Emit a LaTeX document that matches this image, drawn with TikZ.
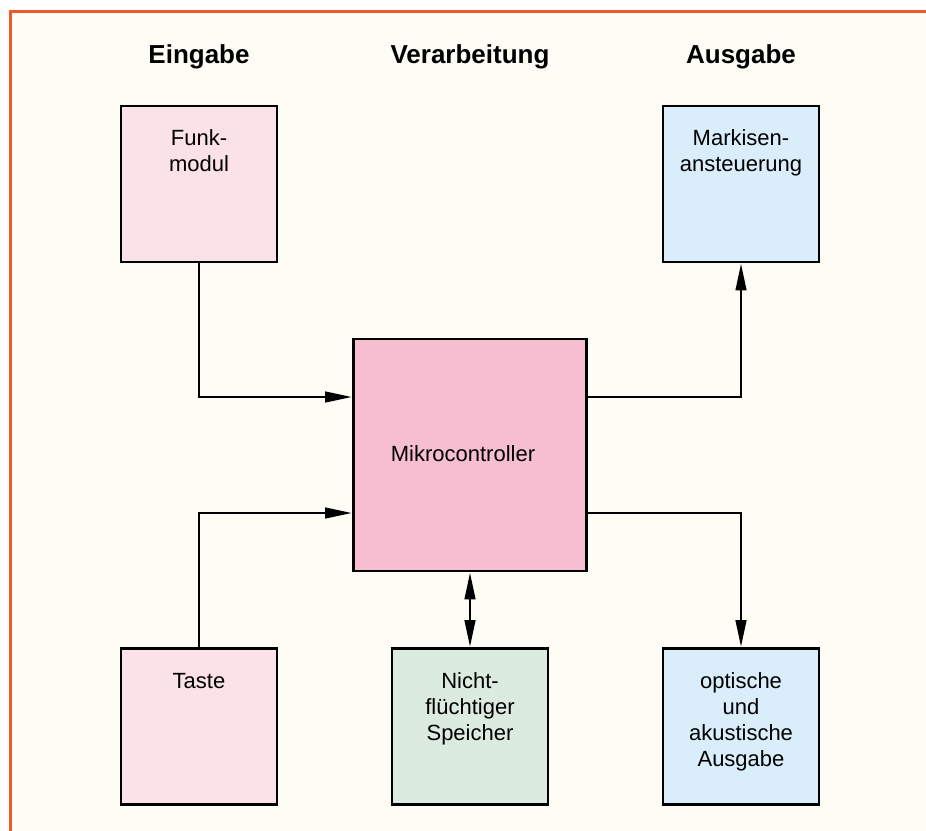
\documentclass[tikz,border=0pt]{standalone}
\usepackage{fontspec}
\setmainfont{Liberation Sans}
\usetikzlibrary{arrows.meta}
\definecolor{cream}{RGB}{254,253,245}
\definecolor{frameor}{RGB}{238,88,44}
\definecolor{pinkL}{RGB}{251,226,231}
\definecolor{pinkM}{RGB}{246,190,208}
\definecolor{greenL}{RGB}{220,235,223}
\definecolor{blueL}{RGB}{218,237,251}
\newcommand{\ml}[1]{\begin{tabular}[t]{@{}c@{}}#1\end{tabular}}
\begin{document}
\begin{tikzpicture}[x=1pt,y=-1pt,
  blk/.style={draw=black,line width=2.8pt,rectangle,inner sep=0pt,minimum width=156pt,minimum height=156pt},
  txt/.style={anchor=base,inner sep=0pt,font=\fontsize{22}{26}\selectfont},
  hdr/.style={anchor=base,inner sep=0pt,font=\fontsize{26}{30}\selectfont\bfseries},
  con/.style={line width=2.8pt,-{Triangle[length=27pt,width=10.5pt]}},
  dcon/.style={line width=2.8pt,{Triangle[length=27pt,width=10.5pt]}-{Triangle[length=27pt,width=10.5pt]}}]
\useasboundingbox (0,0) rectangle (926,830);
\fill[white] (0,0) rectangle (926,830);
\draw[frameor,fill=cream,line width=2.6pt] (10.7,11.3) rectangle (940,845);
% headers
\node[hdr] (h1) at (199,63) {Eingabe};
\node[hdr] (h2) at (470,63) {Verarbeitung};
\node[hdr] (h3) at (741,63) {Ausgabe};
% boxes
\node[blk,fill=pinkL] (funk) at (199,184) {};
\node[blk,fill=blueL] (mark) at (741,184) {};
\node[blk,fill=pinkM,minimum width=233pt,minimum height=232pt] (mc) at (470,455) {};
\node[blk,fill=pinkL] (taste) at (199,726.5) {};
\node[blk,fill=greenL] (spei) at (470,726.5) {};
\node[blk,fill=blueL] (opt) at (741,726.5) {};
% texts
\node[txt] (funkT) at (199,145) {\ml{Funk-\\modul}};
\node[txt] (markT) at (741,145) {\ml{Markisen-\\ansteuerung}};
\node[txt] (mcT) at (463,461) {Mikrocontroller};
\node[txt] (tasteT) at (199,688) {Taste};
\node[txt] (speiT) at (470,688) {\ml{Nicht-\\flüchtiger\\Speicher}};
\node[txt] (optT) at (741,688) {\ml{optische\\und\\akustische\\Ausgabe}};
% connectors
\coordinate (c1) at (199,397);
\coordinate (c2) at (199,513);
\coordinate (c3) at (741,397);
\coordinate (c4) at (741,513);
\draw[con] (funk.south) -- (c1) -- (c1 -| mc.west);
\draw[con] (taste.north) -- (c2) -- (c2 -| mc.west);
\draw[con] (c3 -| mc.east) -- (c3) -- (mark.south);
\draw[con] (c4 -| mc.east) -- (c4) -- (opt.north);
\draw[dcon] (mc.south) -- (spei.north);
\end{tikzpicture}
\end{document}
